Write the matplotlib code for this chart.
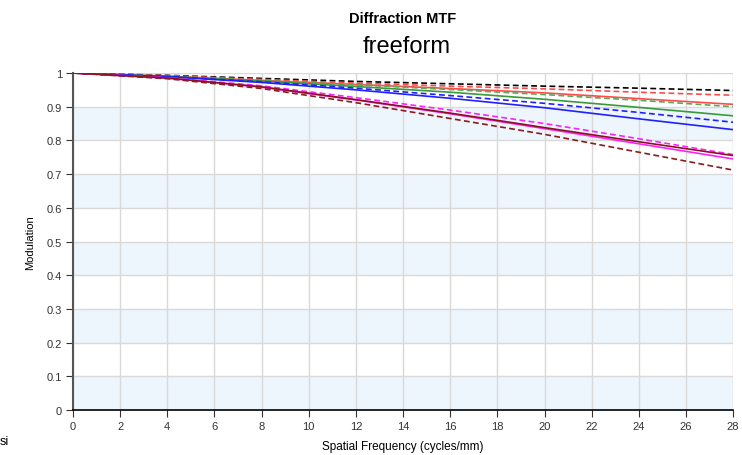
import numpy as np
import matplotlib
matplotlib.use("Agg")
import matplotlib.pyplot as plt

# frecuencias (ciclos/mm)
freq = [0, 4, 8, 12, 16, 20, 24, 28]

black_dash = [1.000, 0.993, 0.984, 0.975, 0.968, 0.961, 0.955, 0.948]
red_dash = [1.000, 0.992, 0.981, 0.970, 0.961, 0.953, 0.943, 0.934]
red_solid = [1.000, 0.991, 0.978, 0.966, 0.954, 0.941, 0.924, 0.907]
green_dash = [1.000, 0.991, 0.978, 0.965, 0.951, 0.936, 0.919, 0.900]
green_solid = [1.000, 0.990, 0.976, 0.960, 0.943, 0.922, 0.898, 0.873]
blue_dash = [1.000, 0.990, 0.974, 0.955, 0.933, 0.910, 0.883, 0.854]
blue_solid = [1.000, 0.989, 0.972, 0.950, 0.925, 0.897, 0.864, 0.832]
mag_dash = [1.000, 0.986, 0.962, 0.927, 0.890, 0.850, 0.805, 0.758]
dkred_solid = [1.000, 0.985, 0.959, 0.921, 0.881, 0.838, 0.796, 0.755]
mag_solid = [1.000, 0.985, 0.958, 0.920, 0.879, 0.835, 0.790, 0.745]
dkred_dash = [1.000, 0.983, 0.954, 0.912, 0.865, 0.818, 0.765, 0.712]

x_ticks = list(range(0, 29, 2))
y_ticks = [0, 0.1, 0.2, 0.3, 0.4, 0.5, 0.6, 0.7, 0.8, 0.9, 1]
y_labels = ['0', '0.1', '0.2', '0.3', '0.4', '0.5', '0.6', '0.7', '0.8', '0.9', '1']

plt.rcParams['font.family'] = ['Liberation Sans', 'DejaVu Sans']

fig = plt.figure(figsize=(7.42, 4.56), dpi=100)
ax = fig.add_axes([0.0984, 0.0987, 0.8896, 0.739])

# bandas azules alternas
for lo in [0, 0.2, 0.4, 0.6, 0.8]:
    ax.axhspan(lo, lo + 0.1, color='#eef6fd', zorder=0, lw=0)

ax.set_xlim(0, 28)
ax.set_ylim(0, 1)
ax.set_xticks(x_ticks)
ax.set_yticks(y_ticks)
ax.set_yticklabels(y_labels)
ax.grid(True, color='#d9d9d9', lw=1, zorder=1)
ax.set_axisbelow(True)

dash = (0, (3.5, 2))
series = [
    (black_dash, '#000000', dash),
    (red_dash, '#ff4a4a', dash),
    (red_solid, '#ff4a4a', '-'),
    (green_dash, '#5aa85a', dash),
    (green_solid, '#3a9a3a', '-'),
    (blue_dash, '#2020ff', dash),
    (blue_solid, '#2020ff', '-'),
    (mag_dash, '#ff20ff', dash),
    (mag_solid, '#ff20ff', '-'),
    (dkred_solid, '#8b1020', '-'),
    (dkred_dash, '#8b1a1a', dash),
]
for vals, col, ls in series:
    ax.plot(freq, vals, color=col, linestyle=ls, lw=1.2, zorder=3)

for s in ['top', 'right']:
    ax.spines[s].set_visible(False)
ax.spines['left'].set_color('#555555')
ax.spines['left'].set_linewidth(1.5)
ax.spines['bottom'].set_color('#000000')
ax.spines['bottom'].set_linewidth(1.2)
ax.tick_params(axis='both', direction='out', length=5, labelsize=8,
               colors='#333333', pad=3)

ax.set_xlabel('Spatial Frequency (cycles/mm)', fontsize=8.5, labelpad=6.5)
ax.set_ylabel('Modulation', fontsize=8, labelpad=8)

fig.text(0.543, 0.958, 'Diffraction MTF', ha='center', va='center',
         fontsize=10.5, fontweight='bold')
fig.text(0.548, 0.898, 'freeform', ha='center', va='center', fontsize=17)
fig.text(0.0, 0.03, 'si', ha='left', va='center', fontsize=9)

fig.savefig('out.png', dpi=100)
